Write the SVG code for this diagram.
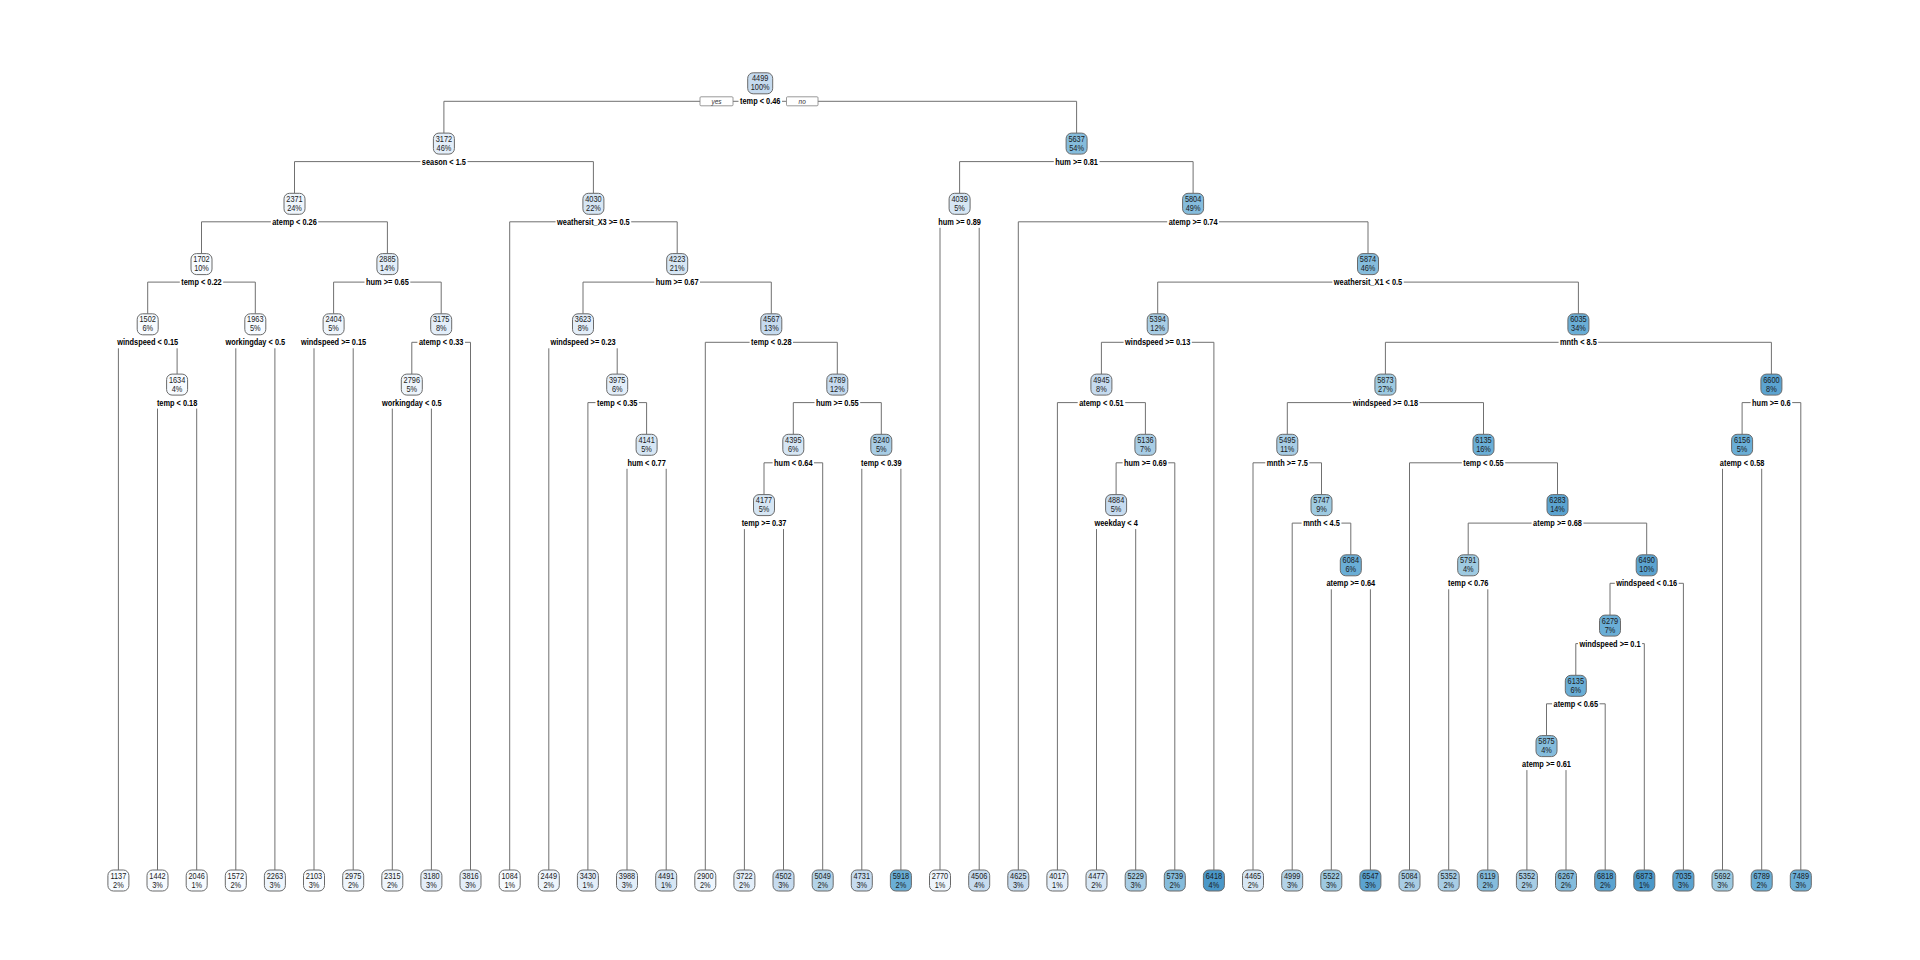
<svg xmlns="http://www.w3.org/2000/svg" width="1920" height="960" viewBox="0 0 1920 960">
<style>
.bg{fill:#ffffff}
.e{fill:none;stroke:#707070;stroke-width:1}
.b{stroke:#6a6a6a;stroke-width:1}
.n{font-family:"Liberation Sans",Arial,sans-serif;font-size:9px;fill:#1a1a1a;text-anchor:middle;transform:scaleX(0.82)}
.s{font-family:"Liberation Sans",Arial,sans-serif;font-size:9px;font-weight:bold;fill:#000;text-anchor:middle}
.yn{fill:#fff;stroke:#808080;stroke-width:0.8}
.ynt{font-family:"Liberation Sans",Arial,sans-serif;font-size:6.5px;font-style:italic;fill:#333;text-anchor:middle}
.c0{fill:#f7fbff}.c1{fill:#eef5fc}.c2{fill:#e3eef9}.c3{fill:#d6e6f4}.c4{fill:#c6dbef}.c5{fill:#b3d3e8}.c6{fill:#9ecae1}.c7{fill:#85bcdc}.c8{fill:#6aaed6}.c9{fill:#5ba3d0}.c10{fill:#4a98c9}.c45{fill:#a8cde5}
</style>
<defs>
<rect id="box" x="-10.5" y="-10.5" width="21" height="21" rx="5.5"/>
</defs>
<rect class="bg" x="0" y="0" width="1920" height="960"/>
<g id="connectors">
<path class="e" d="M443.9,133.1V101.3H700 M733,101.3H738.5 M782,101.3H786.5 M818,101.3H1076.6V133.1"/>
<path class="e" d="M294.5,193.3V161.6H420.4 M593.4,193.3V161.6H467.5"/>
<path class="e" d="M959.6,193.3V161.6H1053.8 M1193.1,193.3V161.6H1099.5"/>
<path class="e" d="M201.5,253.6V221.8H270.8 M387.4,253.6V221.8H318.2"/>
<path class="e" d="M509.7,870V221.8H555.6 M677.2,253.6V221.8H631.2"/>
<path class="e" d="M940,870V227.8 M979.2,870V227.8"/>
<path class="e" d="M1018.3,870V221.8H1167.2 M1368,253.6V221.8H1219"/>
<path class="e" d="M147.7,313.8V282.1H179.8 M255.3,313.8V282.1H223.2"/>
<path class="e" d="M333.6,313.8V282.1H364.5 M441.2,313.8V282.1H410.3"/>
<path class="e" d="M583,313.8V282.1H654.3 M771.3,313.8V282.1H700"/>
<path class="e" d="M1157.7,313.8V282.1H1332.4 M1578.4,313.8V282.1H1403.7"/>
<path class="e" d="M118.4,870V348.3 M177.1,374.1V348.3"/>
<path class="e" d="M235.8,870V348.3 M274.9,870V348.3"/>
<path class="e" d="M314,870V348.3 M353.2,870V348.3"/>
<path class="e" d="M411.8,374.1V342.3H417.4 M470.5,870V342.3H465"/>
<path class="e" d="M548.8,870V348.3 M617.2,374.1V348.3"/>
<path class="e" d="M705.3,870V342.3H749.6 M837.3,374.1V342.3H793"/>
<path class="e" d="M1101.4,374.1V342.3H1123.6 M1213.9,870V342.3H1191.8"/>
<path class="e" d="M1385.4,374.1V342.3H1558.6 M1771.4,374.1V342.3H1598.2"/>
<path class="e" d="M157.5,870V408.6 M196.7,870V408.6"/>
<path class="e" d="M392.3,870V408.6 M431.4,870V408.6"/>
<path class="e" d="M587.9,870V402.6H595.5 M646.6,434.3V402.6H638.9"/>
<path class="e" d="M793.3,434.3V402.6H814.5 M881.3,434.3V402.6H860.2"/>
<path class="e" d="M1057.4,870V402.6H1077.7 M1145.4,434.3V402.6H1125.2"/>
<path class="e" d="M1287.3,434.3V402.6H1351.3 M1483.5,434.3V402.6H1419.5"/>
<path class="e" d="M1742.1,434.3V402.6H1750.6 M1800.8,870V402.6H1792.2"/>
<path class="e" d="M627,870V468.8 M666.2,870V468.8"/>
<path class="e" d="M764,494.6V462.8H772.6 M822.7,870V462.8H814"/>
<path class="e" d="M861.8,870V468.8 M900.9,870V468.8"/>
<path class="e" d="M1116.1,494.6V462.8H1122.6 M1174.8,870V462.8H1168.3"/>
<path class="e" d="M1253,870V462.8H1265.3 M1321.5,494.6V462.8H1309.3"/>
<path class="e" d="M1409.5,870V462.8H1461.8 M1557.5,494.6V462.8H1505.2"/>
<path class="e" d="M1722.5,870V468.8 M1761.7,870V468.8"/>
<path class="e" d="M744.4,870V529.1 M783.5,870V529.1"/>
<path class="e" d="M1096.5,870V529.1 M1135.7,870V529.1"/>
<path class="e" d="M1292.2,870V523.1H1301.6 M1350.8,554.8V523.1H1341.4"/>
<path class="e" d="M1468.2,554.8V523.1H1531.6 M1646.7,554.8V523.1H1583.4"/>
<path class="e" d="M1331.3,870V589.3 M1370.4,870V589.3"/>
<path class="e" d="M1448.7,870V589.3 M1487.8,870V589.3"/>
<path class="e" d="M1610,615.1V583.3H1614.8 M1683.4,870V583.3H1678.7"/>
<path class="e" d="M1575.8,675.3V643.6H1578 M1644.3,870V643.6H1642.1"/>
<path class="e" d="M1546.5,735.6V703.8H1552.1 M1605.2,870V703.8H1599.6"/>
<path class="e" d="M1526.9,870V770.1 M1566,870V770.1"/>
<rect class="yn" x="700" y="96.8" width="33" height="9" rx="1"/>
<text class="ynt" x="716.5" y="103.8">yes</text>
<rect class="yn" x="786.5" y="96.8" width="31.5" height="9" rx="1"/>
<text class="ynt" x="802.2" y="103.8">no</text>
</g>
<g id="n-root" transform="translate(760.2,83.3)"><rect class="b c4" x="-12.5" y="-10.5" width="25" height="21" rx="5.5"/><text class="n" y="-2">4499</text><text class="n" y="7">100%</text><text class="s" y="21" textLength="40.4" lengthAdjust="spacingAndGlyphs">temp &lt; 0.46</text></g>
<g id="n-3172" transform="translate(443.9,143.6)"><use href="#box" class="b c2"/><text class="n" y="-2">3172</text><text class="n" y="7">46%</text><text class="s" y="21" textLength="44.1" lengthAdjust="spacingAndGlyphs">season &lt; 1.5</text></g>
<g id="n-5637" transform="translate(1076.6,143.6)"><use href="#box" class="b c7"/><text class="n" y="-2">5637</text><text class="n" y="7">54%</text><text class="s" y="21" textLength="42.7" lengthAdjust="spacingAndGlyphs">hum &gt;= 0.81</text></g>
<g id="n-2371" transform="translate(294.5,203.8)"><use href="#box" class="b c1"/><text class="n" y="-2">2371</text><text class="n" y="7">24%</text><text class="s" y="21" textLength="44.5" lengthAdjust="spacingAndGlyphs">atemp &lt; 0.26</text></g>
<g id="n-4030" transform="translate(593.4,203.8)"><use href="#box" class="b c3"/><text class="n" y="-2">4030</text><text class="n" y="7">22%</text><text class="s" y="21" textLength="72.6" lengthAdjust="spacingAndGlyphs">weathersit_X3 &gt;= 0.5</text></g>
<g id="n-4039" transform="translate(959.6,203.8)"><use href="#box" class="b c3"/><text class="n" y="-2">4039</text><text class="n" y="7">5%</text><text class="s" y="21" textLength="42.7" lengthAdjust="spacingAndGlyphs">hum &gt;= 0.89</text></g>
<g id="n-5804" transform="translate(1193.1,203.8)"><use href="#box" class="b c7"/><text class="n" y="-2">5804</text><text class="n" y="7">49%</text><text class="s" y="21" textLength="48.8" lengthAdjust="spacingAndGlyphs">atemp &gt;= 0.74</text></g>
<g id="n-1702" transform="translate(201.5,264.1)"><use href="#box" class="b c0"/><text class="n" y="-2">1702</text><text class="n" y="7">10%</text><text class="s" y="21" textLength="40.4" lengthAdjust="spacingAndGlyphs">temp &lt; 0.22</text></g>
<g id="n-2885" transform="translate(387.4,264.1)"><use href="#box" class="b c2"/><text class="n" y="-2">2885</text><text class="n" y="7">14%</text><text class="s" y="21" textLength="42.7" lengthAdjust="spacingAndGlyphs">hum &gt;= 0.65</text></g>
<g id="n-4223" transform="translate(677.2,264.1)"><use href="#box" class="b c3"/><text class="n" y="-2">4223</text><text class="n" y="7">21%</text><text class="s" y="21" textLength="42.7" lengthAdjust="spacingAndGlyphs">hum &gt;= 0.67</text></g>
<g id="n-5874" transform="translate(1368,264.1)"><use href="#box" class="b c7"/><text class="n" y="-2">5874</text><text class="n" y="7">46%</text><text class="s" y="21" textLength="68.3" lengthAdjust="spacingAndGlyphs">weathersit_X1 &lt; 0.5</text></g>
<g id="n-1502" transform="translate(147.7,324.3)"><use href="#box" class="b c0"/><text class="n" y="-2">1502</text><text class="n" y="7">6%</text><text class="s" y="21" textLength="60.9" lengthAdjust="spacingAndGlyphs">windspeed &lt; 0.15</text></g>
<g id="n-1963" transform="translate(255.3,324.3)"><use href="#box" class="b c0"/><text class="n" y="-2">1963</text><text class="n" y="7">5%</text><text class="s" y="21" textLength="59.7" lengthAdjust="spacingAndGlyphs">workingday &lt; 0.5</text></g>
<g id="n-2404" transform="translate(333.6,324.3)"><use href="#box" class="b c1"/><text class="n" y="-2">2404</text><text class="n" y="7">5%</text><text class="s" y="21" textLength="65.2" lengthAdjust="spacingAndGlyphs">windspeed &gt;= 0.15</text></g>
<g id="n-3175" transform="translate(441.2,324.3)"><use href="#box" class="b c2"/><text class="n" y="-2">3175</text><text class="n" y="7">8%</text><text class="s" y="21" textLength="44.5" lengthAdjust="spacingAndGlyphs">atemp &lt; 0.33</text></g>
<g id="n-3623" transform="translate(583,324.3)"><use href="#box" class="b c2"/><text class="n" y="-2">3623</text><text class="n" y="7">8%</text><text class="s" y="21" textLength="65.2" lengthAdjust="spacingAndGlyphs">windspeed &gt;= 0.23</text></g>
<g id="n-4567" transform="translate(771.3,324.3)"><use href="#box" class="b c4"/><text class="n" y="-2">4567</text><text class="n" y="7">13%</text><text class="s" y="21" textLength="40.4" lengthAdjust="spacingAndGlyphs">temp &lt; 0.28</text></g>
<g id="n-5394" transform="translate(1157.7,324.3)"><use href="#box" class="b c45"/><text class="n" y="-2">5394</text><text class="n" y="7">12%</text><text class="s" y="21" textLength="65.2" lengthAdjust="spacingAndGlyphs">windspeed &gt;= 0.13</text></g>
<g id="n-6035" transform="translate(1578.4,324.3)"><use href="#box" class="b c8"/><text class="n" y="-2">6035</text><text class="n" y="7">34%</text><text class="s" y="21" textLength="36.7" lengthAdjust="spacingAndGlyphs">mnth &lt; 8.5</text></g>
<g id="n-1634" transform="translate(177.1,384.6)"><use href="#box" class="b c0"/><text class="n" y="-2">1634</text><text class="n" y="7">4%</text><text class="s" y="21" textLength="40.4" lengthAdjust="spacingAndGlyphs">temp &lt; 0.18</text></g>
<g id="n-2796" transform="translate(411.8,384.6)"><use href="#box" class="b c1"/><text class="n" y="-2">2796</text><text class="n" y="7">5%</text><text class="s" y="21" textLength="59.7" lengthAdjust="spacingAndGlyphs">workingday &lt; 0.5</text></g>
<g id="n-3975" transform="translate(617.2,384.6)"><use href="#box" class="b c2"/><text class="n" y="-2">3975</text><text class="n" y="7">6%</text><text class="s" y="21" textLength="40.4" lengthAdjust="spacingAndGlyphs">temp &lt; 0.35</text></g>
<g id="n-4789" transform="translate(837.3,384.6)"><use href="#box" class="b c4"/><text class="n" y="-2">4789</text><text class="n" y="7">12%</text><text class="s" y="21" textLength="42.7" lengthAdjust="spacingAndGlyphs">hum &gt;= 0.55</text></g>
<g id="n-4945" transform="translate(1101.4,384.6)"><use href="#box" class="b c4"/><text class="n" y="-2">4945</text><text class="n" y="7">8%</text><text class="s" y="21" textLength="44.5" lengthAdjust="spacingAndGlyphs">atemp &lt; 0.51</text></g>
<g id="n-5873" transform="translate(1385.4,384.6)"><use href="#box" class="b c6"/><text class="n" y="-2">5873</text><text class="n" y="7">27%</text><text class="s" y="21" textLength="65.2" lengthAdjust="spacingAndGlyphs">windspeed &gt;= 0.18</text></g>
<g id="n-6600" transform="translate(1771.4,384.6)"><use href="#box" class="b c9"/><text class="n" y="-2">6600</text><text class="n" y="7">8%</text><text class="s" y="21" textLength="38.6" lengthAdjust="spacingAndGlyphs">hum &gt;= 0.6</text></g>
<g id="n-4141" transform="translate(646.6,444.8)"><use href="#box" class="b c3"/><text class="n" y="-2">4141</text><text class="n" y="7">5%</text><text class="s" y="21" textLength="38.4" lengthAdjust="spacingAndGlyphs">hum &lt; 0.77</text></g>
<g id="n-4395" transform="translate(793.3,444.8)"><use href="#box" class="b c3"/><text class="n" y="-2">4395</text><text class="n" y="7">6%</text><text class="s" y="21" textLength="38.4" lengthAdjust="spacingAndGlyphs">hum &lt; 0.64</text></g>
<g id="n-5240" transform="translate(881.3,444.8)"><use href="#box" class="b c45"/><text class="n" y="-2">5240</text><text class="n" y="7">5%</text><text class="s" y="21" textLength="40.4" lengthAdjust="spacingAndGlyphs">temp &lt; 0.39</text></g>
<g id="n-5136" transform="translate(1145.4,444.8)"><use href="#box" class="b c45"/><text class="n" y="-2">5136</text><text class="n" y="7">7%</text><text class="s" y="21" textLength="42.7" lengthAdjust="spacingAndGlyphs">hum &gt;= 0.69</text></g>
<g id="n-5495" transform="translate(1287.3,444.8)"><use href="#box" class="b c45"/><text class="n" y="-2">5495</text><text class="n" y="7">11%</text><text class="s" y="21" textLength="41" lengthAdjust="spacingAndGlyphs">mnth &gt;= 7.5</text></g>
<g id="n-6135" transform="translate(1483.5,444.8)"><use href="#box" class="b c8"/><text class="n" y="-2">6135</text><text class="n" y="7">16%</text><text class="s" y="21" textLength="40.4" lengthAdjust="spacingAndGlyphs">temp &lt; 0.55</text></g>
<g id="n-6156" transform="translate(1742.1,444.8)"><use href="#box" class="b c8"/><text class="n" y="-2">6156</text><text class="n" y="7">5%</text><text class="s" y="21" textLength="44.5" lengthAdjust="spacingAndGlyphs">atemp &lt; 0.58</text></g>
<g id="n-4177" transform="translate(764,505.1)"><use href="#box" class="b c3"/><text class="n" y="-2">4177</text><text class="n" y="7">5%</text><text class="s" y="21" textLength="44.7" lengthAdjust="spacingAndGlyphs">temp &gt;= 0.37</text></g>
<g id="n-4884" transform="translate(1116.1,505.1)"><use href="#box" class="b c4"/><text class="n" y="-2">4884</text><text class="n" y="7">5%</text><text class="s" y="21" textLength="43.3" lengthAdjust="spacingAndGlyphs">weekday &lt; 4</text></g>
<g id="n-5747" transform="translate(1321.5,505.1)"><use href="#box" class="b c6"/><text class="n" y="-2">5747</text><text class="n" y="7">9%</text><text class="s" y="21" textLength="36.7" lengthAdjust="spacingAndGlyphs">mnth &lt; 4.5</text></g>
<g id="n-6283" transform="translate(1557.5,505.1)"><use href="#box" class="b c9"/><text class="n" y="-2">6283</text><text class="n" y="7">14%</text><text class="s" y="21" textLength="48.8" lengthAdjust="spacingAndGlyphs">atemp &gt;= 0.68</text></g>
<g id="n-6084" transform="translate(1350.8,565.3)"><use href="#box" class="b c8"/><text class="n" y="-2">6084</text><text class="n" y="7">6%</text><text class="s" y="21" textLength="48.8" lengthAdjust="spacingAndGlyphs">atemp &gt;= 0.64</text></g>
<g id="n-5791" transform="translate(1468.2,565.3)"><use href="#box" class="b c6"/><text class="n" y="-2">5791</text><text class="n" y="7">4%</text><text class="s" y="21" textLength="40.4" lengthAdjust="spacingAndGlyphs">temp &lt; 0.76</text></g>
<g id="n-6490" transform="translate(1646.7,565.3)"><use href="#box" class="b c9"/><text class="n" y="-2">6490</text><text class="n" y="7">10%</text><text class="s" y="21" textLength="60.9" lengthAdjust="spacingAndGlyphs">windspeed &lt; 0.16</text></g>
<g id="n-6279" transform="translate(1610,625.6)"><use href="#box" class="b c8"/><text class="n" y="-2">6279</text><text class="n" y="7">7%</text><text class="s" y="21" textLength="61.1" lengthAdjust="spacingAndGlyphs">windspeed &gt;= 0.1</text></g>
<g id="n-6135b" transform="translate(1575.8,685.8)"><use href="#box" class="b c8"/><text class="n" y="-2">6135</text><text class="n" y="7">6%</text><text class="s" y="21" textLength="44.5" lengthAdjust="spacingAndGlyphs">atemp &lt; 0.65</text></g>
<g id="n-5875" transform="translate(1546.5,746.1)"><use href="#box" class="b c7"/><text class="n" y="-2">5875</text><text class="n" y="7">4%</text><text class="s" y="21" textLength="48.8" lengthAdjust="spacingAndGlyphs">atemp &gt;= 0.61</text></g>
<g id="leaf-0" transform="translate(118.4,880.5)"><use href="#box" class="b c0"/><text class="n" y="-2">1137</text><text class="n" y="7">2%</text></g>
<g id="leaf-1" transform="translate(157.5,880.5)"><use href="#box" class="b c0"/><text class="n" y="-2">1442</text><text class="n" y="7">3%</text></g>
<g id="leaf-2" transform="translate(196.7,880.5)"><use href="#box" class="b c0"/><text class="n" y="-2">2046</text><text class="n" y="7">1%</text></g>
<g id="leaf-3" transform="translate(235.8,880.5)"><use href="#box" class="b c0"/><text class="n" y="-2">1572</text><text class="n" y="7">2%</text></g>
<g id="leaf-4" transform="translate(274.9,880.5)"><use href="#box" class="b c1"/><text class="n" y="-2">2263</text><text class="n" y="7">3%</text></g>
<g id="leaf-5" transform="translate(314,880.5)"><use href="#box" class="b c0"/><text class="n" y="-2">2103</text><text class="n" y="7">3%</text></g>
<g id="leaf-6" transform="translate(353.2,880.5)"><use href="#box" class="b c1"/><text class="n" y="-2">2975</text><text class="n" y="7">2%</text></g>
<g id="leaf-7" transform="translate(392.3,880.5)"><use href="#box" class="b c1"/><text class="n" y="-2">2315</text><text class="n" y="7">2%</text></g>
<g id="leaf-8" transform="translate(431.4,880.5)"><use href="#box" class="b c2"/><text class="n" y="-2">3180</text><text class="n" y="7">3%</text></g>
<g id="leaf-9" transform="translate(470.5,880.5)"><use href="#box" class="b c2"/><text class="n" y="-2">3816</text><text class="n" y="7">3%</text></g>
<g id="leaf-10" transform="translate(509.7,880.5)"><use href="#box" class="b c0"/><text class="n" y="-2">1084</text><text class="n" y="7">1%</text></g>
<g id="leaf-11" transform="translate(548.8,880.5)"><use href="#box" class="b c1"/><text class="n" y="-2">2449</text><text class="n" y="7">2%</text></g>
<g id="leaf-12" transform="translate(587.9,880.5)"><use href="#box" class="b c2"/><text class="n" y="-2">3430</text><text class="n" y="7">1%</text></g>
<g id="leaf-13" transform="translate(627,880.5)"><use href="#box" class="b c2"/><text class="n" y="-2">3988</text><text class="n" y="7">3%</text></g>
<g id="leaf-14" transform="translate(666.2,880.5)"><use href="#box" class="b c3"/><text class="n" y="-2">4491</text><text class="n" y="7">1%</text></g>
<g id="leaf-15" transform="translate(705.3,880.5)"><use href="#box" class="b c1"/><text class="n" y="-2">2900</text><text class="n" y="7">2%</text></g>
<g id="leaf-16" transform="translate(744.4,880.5)"><use href="#box" class="b c2"/><text class="n" y="-2">3722</text><text class="n" y="7">2%</text></g>
<g id="leaf-17" transform="translate(783.5,880.5)"><use href="#box" class="b c4"/><text class="n" y="-2">4502</text><text class="n" y="7">3%</text></g>
<g id="leaf-18" transform="translate(822.7,880.5)"><use href="#box" class="b c5"/><text class="n" y="-2">5049</text><text class="n" y="7">2%</text></g>
<g id="leaf-19" transform="translate(861.8,880.5)"><use href="#box" class="b c4"/><text class="n" y="-2">4731</text><text class="n" y="7">3%</text></g>
<g id="leaf-20" transform="translate(900.9,880.5)"><use href="#box" class="b c8"/><text class="n" y="-2">5918</text><text class="n" y="7">2%</text></g>
<g id="leaf-21" transform="translate(940,880.5)"><use href="#box" class="b c1"/><text class="n" y="-2">2770</text><text class="n" y="7">1%</text></g>
<g id="leaf-22" transform="translate(979.2,880.5)"><use href="#box" class="b c4"/><text class="n" y="-2">4506</text><text class="n" y="7">4%</text></g>
<g id="leaf-23" transform="translate(1018.3,880.5)"><use href="#box" class="b c4"/><text class="n" y="-2">4625</text><text class="n" y="7">3%</text></g>
<g id="leaf-24" transform="translate(1057.4,880.5)"><use href="#box" class="b c2"/><text class="n" y="-2">4017</text><text class="n" y="7">1%</text></g>
<g id="leaf-25" transform="translate(1096.5,880.5)"><use href="#box" class="b c3"/><text class="n" y="-2">4477</text><text class="n" y="7">2%</text></g>
<g id="leaf-26" transform="translate(1135.7,880.5)"><use href="#box" class="b c45"/><text class="n" y="-2">5229</text><text class="n" y="7">3%</text></g>
<g id="leaf-27" transform="translate(1174.8,880.5)"><use href="#box" class="b c7"/><text class="n" y="-2">5739</text><text class="n" y="7">2%</text></g>
<g id="leaf-28" transform="translate(1213.9,880.5)"><use href="#box" class="b c10"/><text class="n" y="-2">6418</text><text class="n" y="7">4%</text></g>
<g id="leaf-29" transform="translate(1253,880.5)"><use href="#box" class="b c3"/><text class="n" y="-2">4465</text><text class="n" y="7">2%</text></g>
<g id="leaf-30" transform="translate(1292.2,880.5)"><use href="#box" class="b c5"/><text class="n" y="-2">4999</text><text class="n" y="7">3%</text></g>
<g id="leaf-31" transform="translate(1331.3,880.5)"><use href="#box" class="b c6"/><text class="n" y="-2">5522</text><text class="n" y="7">3%</text></g>
<g id="leaf-32" transform="translate(1370.4,880.5)"><use href="#box" class="b c9"/><text class="n" y="-2">6547</text><text class="n" y="7">3%</text></g>
<g id="leaf-33" transform="translate(1409.5,880.5)"><use href="#box" class="b c45"/><text class="n" y="-2">5084</text><text class="n" y="7">2%</text></g>
<g id="leaf-34" transform="translate(1448.7,880.5)"><use href="#box" class="b c45"/><text class="n" y="-2">5352</text><text class="n" y="7">2%</text></g>
<g id="leaf-35" transform="translate(1487.8,880.5)"><use href="#box" class="b c7"/><text class="n" y="-2">6119</text><text class="n" y="7">2%</text></g>
<g id="leaf-36" transform="translate(1526.9,880.5)"><use href="#box" class="b c45"/><text class="n" y="-2">5352</text><text class="n" y="7">2%</text></g>
<g id="leaf-37" transform="translate(1566,880.5)"><use href="#box" class="b c7"/><text class="n" y="-2">6267</text><text class="n" y="7">2%</text></g>
<g id="leaf-38" transform="translate(1605.2,880.5)"><use href="#box" class="b c9"/><text class="n" y="-2">6818</text><text class="n" y="7">2%</text></g>
<g id="leaf-39" transform="translate(1644.3,880.5)"><use href="#box" class="b c10"/><text class="n" y="-2">6873</text><text class="n" y="7">1%</text></g>
<g id="leaf-40" transform="translate(1683.4,880.5)"><use href="#box" class="b c9"/><text class="n" y="-2">7035</text><text class="n" y="7">3%</text></g>
<g id="leaf-41" transform="translate(1722.5,880.5)"><use href="#box" class="b c6"/><text class="n" y="-2">5692</text><text class="n" y="7">3%</text></g>
<g id="leaf-42" transform="translate(1761.7,880.5)"><use href="#box" class="b c8"/><text class="n" y="-2">6789</text><text class="n" y="7">2%</text></g>
<g id="leaf-43" transform="translate(1800.8,880.5)"><use href="#box" class="b c8"/><text class="n" y="-2">7489</text><text class="n" y="7">3%</text></g>
</svg>
